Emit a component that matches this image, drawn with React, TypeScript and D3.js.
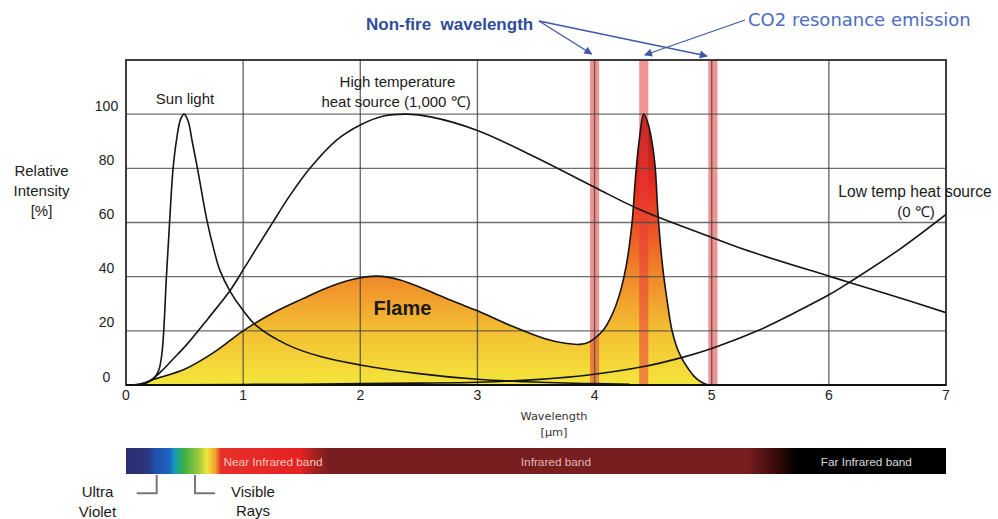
import React from "react";
import * as d3 from "d3";

// ---- data ----
const xTicks = [0, 1, 2, 3, 4, 5, 6, 7];
const yTicks = [0, 20, 40, 60, 80, 100];

type P = [number, number];

const sunLight: P[] = [
  [0, 0], [0.1, 0.1], [0.18, 0.8], [0.24, 2.5], [0.28, 5.5], [0.305, 11], [0.322, 20],
  [0.345, 40], [0.372, 60], [0.402, 80], [0.433, 91], [0.465, 98], [0.496, 100], [0.53, 97.5],
  [0.565, 90], [0.61, 80], [0.69, 61], [0.75, 50], [0.8, 42.5], [0.89, 34.5], [1.0, 27.5],
  [1.11, 22], [1.37, 15], [1.66, 10.5], [2.0, 7.4], [2.5, 4.2], [3.0, 2.1], [3.42, 1.2],
  [4.0, 0.5], [4.3, 0.3],
];

const highTemp: P[] = [
  [0, 0], [0.12, 0.4], [0.2, 1.5], [0.3, 5], [0.4, 9.5], [0.52, 15], [0.7, 24.5],
  [0.89, 35], [1.0, 42.5], [1.1, 49.5], [1.245, 59.5], [1.4, 70], [1.57, 80], [1.8, 90.5],
  [2.0, 96], [2.2, 99.3], [2.4, 100], [2.6, 99], [3.0, 94], [3.5, 84], [4.0, 73],
  [4.4, 64.5], [5.0, 54.5], [5.28, 50], [6.0, 40.2], [6.47, 34], [7.0, 26.7],
];

const lowTemp: P[] = [
  [0, 0], [0.5, 0.1], [1.0, 0.2], [1.5, 0.3], [2.0, 0.5], [2.5, 0.7], [3.0, 1.0],
  [3.5, 2.0], [3.95, 3.7], [4.42, 6.8], [4.75, 10.2], [5.0, 13.5], [5.39, 20], [5.7, 26.5],
  [6.0, 33.3], [6.2, 38.6], [6.6, 50], [7.0, 63],
];

const flame: P[] = [
  [0, 0], [0.12, 0.1], [0.23, 2], [0.5, 5.8], [0.76, 12.3], [1.0, 20], [1.25, 26.5],
  [1.5, 31.7], [1.75, 36.5], [2.0, 39.6], [2.14, 40.2], [2.34, 38.8], [2.57, 35],
  [2.8, 30.8], [3.0, 27.4], [3.28, 22], [3.57, 17.2], [3.75, 15.4], [3.87, 15],
  [3.95, 15.8], [4.0, 17.2], [4.07, 20], [4.15, 26], [4.21, 33], [4.27, 44],
  [4.32, 60], [4.35, 77], [4.38, 90], [4.42, 100], [4.46, 96], [4.5, 87], [4.52, 79],
  [4.54, 64], [4.58, 44], [4.62, 31], [4.66, 20.3], [4.7, 14.2], [4.74, 10.2],
  [4.8, 6], [4.85, 3.2], [4.91, 1.1], [4.97, 0],
];

const bandCenters = [4.0, 4.42, 5.01];
const bandWidth = 0.078;

const flameStops: [number, string][] = [
  [0, "#f4e63c"], [20, "#f3bf32"], [40, "#f08a2a"], [58, "#ec5224"],
  [75, "#e52a1e"], [100, "#9a1616"],
];

const spectrumStops: [number, string][] = [
  [0, "#2b2d6e"], [0.19, "#2b3580"], [0.25, "#1f52ae"], [0.37, "#1e62c0"],
  [0.42, "#12a0b8"], [0.49, "#3cae48"], [0.62, "#9cc83c"], [0.69, "#f0e43a"],
  [0.76, "#f0a830"], [0.81, "#e8302a"], [1.49, "#e52222"], [1.62, "#a02020"],
  [1.74, "#781e21"], [5.3, "#761e20"], [5.55, "#3a0a0a"], [5.72, "#000000"], [7, "#000000"],
];

const bandLabels: [number, string, string][] = [
  [1.255, "Near Infrared band", "#f6c9c0"],
  [3.67, "Infrared band", "#e6b4b4"],
  [6.32, "Far Infrared band", "#dcdcdc"],
];

// ---- layout ----
const W = 998;
const H = 519;
const x = d3.scaleLinear().domain([0, 7]).range([126, 946]);
const y = d3.scaleLinear().domain([0, 120]).range([385, 60]);

const FONT = "'Liberation Sans', Arial, Helvetica, sans-serif";
const FONT2 = "'DejaVu Sans', Verdana, sans-serif";

const curve = d3.curveCatmullRom.alpha(0.5);

const line = d3
  .line<P>()
  .x((d) => x(d[0]))
  .y((d) => y(d[1]))
  .curve(curve);

const area = d3
  .area<P>()
  .x((d) => x(d[0]))
  .y0(y(0))
  .y1((d) => y(d[1]))
  .curve(curve);

export default function App() {
  const barTop = 448;
  const barBot = 474;
  const arrowColor = "#4058a6";
  return (
    <div style={{ position: "absolute", left: 0, top: 0 }}>
      <svg width={W} height={H} viewBox={`0 0 ${W} ${H}`} style={{ display: "block", background: "#fff" }}>
        <defs>
          <linearGradient id="flameGrad" gradientUnits="userSpaceOnUse" x1={0} x2={0} y1={y(0)} y2={y(100)}>
            {flameStops.map(([v, c], i) => (
              <stop key={i} offset={v / 100} stopColor={c} />
            ))}
          </linearGradient>
          <linearGradient id="specGrad" gradientUnits="userSpaceOnUse" x1={x(0)} x2={x(7)} y1={0} y2={0}>
            {spectrumStops.map(([v, c], i) => (
              <stop key={i} offset={v / 7} stopColor={c} />
            ))}
          </linearGradient>
          <marker id="arrowHead" viewBox="0 0 10 10" refX={9} refY={5} markerWidth={9} markerHeight={8} markerUnits="userSpaceOnUse" orient="auto">
            <path d="M0,0 L10,5 L0,10 Z" fill={arrowColor} />
          </marker>
          <clipPath id="plotClip">
            <rect x={x(0)} y={y(120)} width={x(7) - x(0)} height={y(0) - y(120)} />
          </clipPath>
        </defs>

        <g clipPath="url(#plotClip)">
          {/* flame fill */}
          <path d={area(flame) || ""} fill="url(#flameGrad)" />

          {/* red non-fire / CO2 bands */}
          {bandCenters.map((c, i) => (
            <rect
              key={i}
              x={x(c - bandWidth / 2)}
              y={y(120)}
              width={x(bandWidth) - x(0)}
              height={y(0) - y(120)}
              fill="#e83a3a"
              opacity={0.55}
            />
          ))}

          {/* grid */}
          {yTicks.filter((t) => t > 0).map((t) => (
            <line key={"gy" + t} x1={x(0)} x2={x(7)} y1={y(t)} y2={y(t)} stroke="#4a4a4a" strokeWidth={1.4} opacity={0.8} />
          ))}
          {xTicks.filter((t) => t > 0 && t < 7).map((t) => (
            <line key={"gx" + t} x1={x(t)} x2={x(t)} y1={y(120)} y2={y(0)} stroke="#4a4a4a" strokeWidth={1.4} opacity={0.8} />
          ))}

          {/* curves */}
          {[sunLight, highTemp, lowTemp, flame].map((s, i) => (
            <path key={i} d={line(s) || ""} fill="none" stroke="#151515" strokeWidth={1.6} />
          ))}
        </g>

        {/* frame */}
        <rect x={x(0)} y={y(120)} width={x(7) - x(0)} height={y(0) - y(120)} fill="none" stroke="#2a2a2a" strokeWidth={1.8} />
        <line x1={x(0)} x2={x(7)} y1={y(0)} y2={y(0)} stroke="#111" strokeWidth={2.2} />

        {/* y tick labels */}
        {yTicks.map((t) => (
          <text key={"ty" + t} x={106.5} y={y(t) - 3.5} textAnchor="middle" fontFamily={FONT} fontSize={14} fill="#222">
            {t}
          </text>
        ))}
        {/* x tick labels */}
        {xTicks.map((t) => (
          <text key={"tx" + t} x={x(t)} y={399.5} textAnchor="middle" fontFamily={FONT} fontSize={14} fill="#222">
            {t}
          </text>
        ))}

        {/* axis titles */}
        <g fontFamily={FONT} fontSize={15} fill="#222" textAnchor="middle">
          <text x={41.5} y={175.5}>Relative</text>
          <text x={41.5} y={195.5}>Intensity</text>
          <text x={41.5} y={215.5}>[%]</text>
        </g>
        <g fontFamily={FONT2} fontSize={11.3} fill="#333" textAnchor="middle">
          <text x={554} y={420}>Wavelength</text>
          <text x={554} y={436}>[μm]</text>
        </g>

        {/* curve labels */}
        <g fontFamily={FONT} fontSize={15} fill="#1a1a1a" textAnchor="middle">
          <text x={185} y={103.5}>Sun light</text>
          <text x={397.5} y={87}>High temperature</text>
          <text x={396} y={107}>heat source (1,000 ℃)</text>
          <text x={915} y={197} fontSize={15.6}>Low temp heat source</text>
          <text x={916} y={217}>(0 ℃)</text>
        </g>
        <text x={402.5} y={315} textAnchor="middle" fontFamily={FONT} fontWeight="bold" fontSize={20} fill="#1a1a1a">
          Flame
        </text>

        {/* top annotations */}
        <text x={366} y={29.5} fontFamily={FONT} fontWeight="bold" fontSize={17} fill="#2f4d96" style={{ whiteSpace: "pre" }}>
          {"Non-fire\u00a0\u00a0wavelength"}
        </text>
        <text x={748} y={26} fontFamily={FONT2} fontSize={18} fill="#4a6cc4">
          CO2 resonance emission
        </text>
        <line x1={539} y1={21} x2={x(3.975)} y2={54} stroke={arrowColor} strokeWidth={1.3} markerEnd="url(#arrowHead)" />
        <line x1={539} y1={21} x2={x(4.96)} y2={56} stroke={arrowColor} strokeWidth={1.3} markerEnd="url(#arrowHead)" />
        <line x1={745} y1={20} x2={x(4.42) + 1} y2={55} stroke={arrowColor} strokeWidth={1.3} markerEnd="url(#arrowHead)" />

        {/* spectrum bar */}
        <rect x={x(0)} y={barTop} width={x(7) - x(0)} height={barBot - barTop} fill="url(#specGrad)" />
        {bandLabels.map(([c, label, col], i) => (
          <text key={i} x={x(c)} y={465.5} textAnchor="middle" fontFamily={FONT} fontSize={11.8} fill={col}>
            {label}
          </text>
        ))}

        {/* brackets under bar */}
        <path d={`M156.7,${barBot + 1} V493.3 H136.7`} fill="none" stroke="#777" strokeWidth={2} />
        <path d={`M195,${barBot + 1} V493.3 H215`} fill="none" stroke="#777" strokeWidth={2} />
        <g fontFamily={FONT} fontSize={15} fill="#1a1a1a" textAnchor="middle">
          <text x={97.5} y={497}>Ultra</text>
          <text x={97.5} y={516.5}>Violet</text>
          <text x={253} y={497}>Visible</text>
          <text x={253} y={516}>Rays</text>
        </g>
      </svg>
    </div>
  );
}
